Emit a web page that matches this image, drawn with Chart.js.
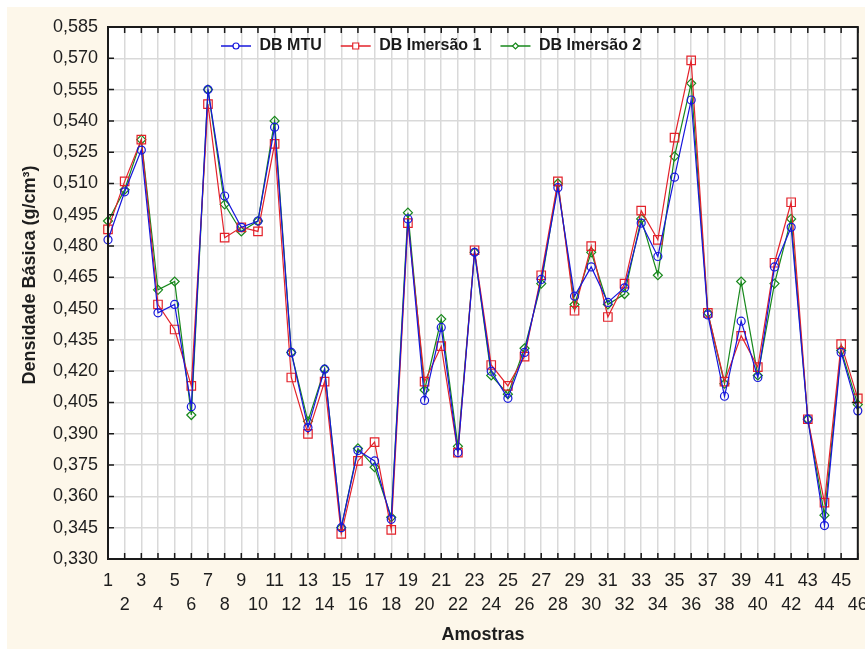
<!DOCTYPE html>
<html>
<head>
<meta charset="utf-8">
<script src="https://cdn.jsdelivr.net/npm/chart.js@4/dist/chart.umd.min.js"></script>
<style>
  html, body { margin: 0; padding: 0; background: #ffffff; }
  #wrap { width: 865px; height: 649px; position: relative; }
</style>
</head>
<body>
<div id="wrap"><canvas id="densChart"></canvas></div>
<script>
const amostras = ['1','2','3','4','5','6','7','8','9','10','11','12','13','14','15','16','17','18','19','20','21','22','23',
    '24','25','26','27','28','29','30','31','32','33','34','35','36','37','38','39','40','41','42','43','44','45','46'];

const dbMtu = [0.483, 0.506, 0.526, 0.448, 0.452, 0.403, 0.555, 0.504, 0.489, 0.492, 0.537, 0.429, 0.393, 0.421, 0.345,
    0.382, 0.377, 0.349, 0.493, 0.406, 0.441, 0.381, 0.477, 0.420, 0.407, 0.429, 0.464, 0.508, 0.456, 0.470, 0.453,
    0.460, 0.491, 0.475, 0.513, 0.550, 0.447, 0.408, 0.444, 0.417, 0.470, 0.489, 0.397, 0.346, 0.429, 0.401];

const dbImersao1 = [0.488, 0.511, 0.531, 0.452, 0.440, 0.413, 0.548, 0.484, 0.489, 0.487, 0.529, 0.417, 0.390, 0.415, 0.342,
    0.377, 0.386, 0.344, 0.491, 0.415, 0.432, 0.381, 0.478, 0.423, 0.413, 0.427, 0.466, 0.511, 0.449, 0.480, 0.446,
    0.462, 0.497, 0.483, 0.532, 0.569, 0.448, 0.415, 0.437, 0.422, 0.472, 0.501, 0.397, 0.357, 0.433, 0.407];

const dbImersao2 = [0.492, 0.507, 0.531, 0.459, 0.463, 0.399, 0.555, 0.500, 0.487, 0.492, 0.540, 0.429, 0.396, 0.421, 0.345,
    0.383, 0.374, 0.350, 0.496, 0.411, 0.445, 0.384, 0.477, 0.418, 0.409, 0.431, 0.462, 0.510, 0.452, 0.477, 0.452,
    0.457, 0.493, 0.466, 0.523, 0.558, 0.448, 0.414, 0.463, 0.418, 0.462, 0.493, 0.397, 0.351, 0.430, 0.404];

const yTicks = [0.330, 0.345, 0.360, 0.375, 0.390, 0.405, 0.420, 0.435, 0.450, 0.465, 0.480, 0.495,
    0.510, 0.525, 0.540, 0.555, 0.570, 0.585];

const yTitle = 'Densidade Básica (g/cm³)';

const BLUE = '#1616dc';
const RED = '#e3222a';
const GREEN = '#17881b';
const FONT = "'Liberation Sans', Arial, sans-serif";

// cream page, white plot area
const backdrop = {
    id: 'backdrop',
    beforeDraw(chart) {
        const { ctx, chartArea: a } = chart;
        ctx.save();
        ctx.fillStyle = '#fdf7ea';
        ctx.fillRect(7, 7, chart.width - 7, chart.height - 7);
        ctx.fillStyle = '#ffffff';
        ctx.fillRect(a.left, a.top, a.right - a.left, a.bottom - a.top);
        ctx.restore();
    }
};

// black frame with small inward ticks on all sides
const frame = {
    id: 'frame',
    afterDatasetsDraw(chart) {
        const { ctx, chartArea: a, scales } = chart;
        const len = 6;
        ctx.save();
        ctx.strokeStyle = '#1a1a1a';
        ctx.lineWidth = 1.5;
        ctx.beginPath();
        scales.x.ticks.forEach((t, i) => {
            const px = scales.x.getPixelForTick(i);
            ctx.moveTo(px, a.bottom); ctx.lineTo(px, a.bottom - len);
            ctx.moveTo(px, a.top); ctx.lineTo(px, a.top + len);
        });
        scales.y.ticks.forEach((t, i) => {
            const py = scales.y.getPixelForTick(i);
            ctx.moveTo(a.left, py); ctx.lineTo(a.left + len, py);
            ctx.moveTo(a.right, py); ctx.lineTo(a.right - len, py);
        });
        ctx.stroke();
        ctx.lineWidth = 2;
        ctx.strokeRect(a.left, a.top, a.right - a.left, a.bottom - a.top);

        // y axis title sits a bit above the axis centre in the original
        ctx.translate(30, 275);
        ctx.rotate(-Math.PI / 2);
        ctx.font = 'bold 18px ' + FONT;
        ctx.fillStyle = '#1e1e1e';
        ctx.textAlign = 'center';
        ctx.textBaseline = 'middle';
        ctx.fillText(yTitle, 0, 0);
        ctx.restore();
    }
};

// legend inside the plot: short line with marker, then label
const lineLegend = {
    id: 'lineLegend',
    afterDatasetsDraw(chart) {
        const { ctx } = chart;
        let x = 221;
        const y = 46;
        ctx.save();
        ctx.font = 'bold 16px ' + FONT;
        ctx.textBaseline = 'middle';
        chart.data.datasets.forEach(ds => {
            ctx.strokeStyle = ds.borderColor;
            ctx.lineWidth = 1.5;
            ctx.beginPath();
            ctx.moveTo(x, y); ctx.lineTo(x + 30, y);
            ctx.stroke();
            ctx.lineWidth = 1.2;
            const cx = x + 15;
            ctx.beginPath();
            if (ds.pointStyle === 'circle') {
                ctx.arc(cx, y, 3, 0, Math.PI * 2);
            } else if (ds.pointStyle === 'rect') {
                ctx.rect(cx - 3, y - 3, 6, 6);
            } else {
                ctx.moveTo(cx, y - 3); ctx.lineTo(cx + 3, y); ctx.lineTo(cx, y + 3); ctx.lineTo(cx - 3, y); ctx.closePath();
            }
            ctx.fillStyle = '#ffffff';
            ctx.fill();
            ctx.stroke();
            ctx.fillStyle = '#1a1a1a';
            ctx.fillText(ds.label, x + 38.5, y);
            x += 38.5 + ctx.measureText(ds.label).width + 19;
        });
        ctx.restore();
    }
};

const ctx = document.getElementById('densChart').getContext('2d');
new Chart(ctx, {
    type: 'line',
    data: {
        labels: amostras,
        datasets: [
            {
                label: 'DB MTU',
                data: dbMtu,
                borderColor: BLUE,
                borderWidth: 1.2,
                pointStyle: 'circle',
                pointRadius: 4,
                pointBorderColor: BLUE,
                pointBackgroundColor: 'rgba(255,255,255,0)',
                pointBorderWidth: 1.2,
                tension: 0,
                clip: false
            },
            {
                label: 'DB Imersão 1',
                data: dbImersao1,
                borderColor: RED,
                borderWidth: 1.2,
                pointStyle: 'rect',
                pointRadius: 6,
                pointBorderColor: RED,
                pointBackgroundColor: 'rgba(255,255,255,0)',
                pointBorderWidth: 1.2,
                tension: 0,
                clip: false
            },
            {
                label: 'DB Imersão 2',
                data: dbImersao2,
                borderColor: GREEN,
                borderWidth: 1.2,
                pointStyle: 'rectRot',
                pointRadius: 4.5,
                pointBorderColor: GREEN,
                pointBackgroundColor: 'rgba(255,255,255,0)',
                pointBorderWidth: 1.2,
                tension: 0,
                clip: false
            }
        ]
    },
    options: {
        responsive: true,
        maintainAspectRatio: false,
        animation: false,
        layout: { padding: { left: 0, top: 27, right: 5, bottom: 0 } },
        plugins: {
            legend: { display: false },
            tooltip: { enabled: false }
        },
        scales: {
            x: {
                type: 'category',
                grid: { color: '#d9d9d9', lineWidth: 1.5, drawTicks: false },
                border: { display: false },
                ticks: {
                    autoSkip: false,
                    maxRotation: 0,
                    minRotation: 0,
                    padding: 11,
                    color: '#1e1e1e',
                    font: { family: FONT, size: 18, lineHeight: 1.28 },
                    callback: function (value, index) {
                        const lab = this.getLabelForValue(value);
                        return index % 2 === 0 ? [lab, ''] : ['', lab];
                    }
                },
                title: {
                    display: true,
                    text: 'Amostras',
                    color: '#1e1e1e',
                    font: { family: FONT, size: 18, weight: 'bold' },
                    padding: { top: 0, bottom: 3 }
                },
                afterFit(scale) {
                    scale.height = 90;
                    scale.paddingLeft = 0;
                    scale.paddingRight = 0;
                }
            },
            y: {
                min: 0.330,
                max: 0.585,
                grid: { color: '#d9d9d9', lineWidth: 1.5, drawTicks: false },
                border: { display: false },
                afterBuildTicks(scale) {
                    scale.ticks = yTicks.map(v => ({ value: v }));
                },
                ticks: {
                    padding: 10,
                    color: '#1e1e1e',
                    font: { family: FONT, size: 18 },
                    callback: v => v.toFixed(3).replace('.', ',')
                },
                afterFit(scale) {
                    scale.width = 108;
                    scale.paddingTop = 0;
                    scale.paddingBottom = 0;
                }
            }
        }
    },
    plugins: [backdrop, frame, lineLegend]
});
</script>
</body>
</html>
